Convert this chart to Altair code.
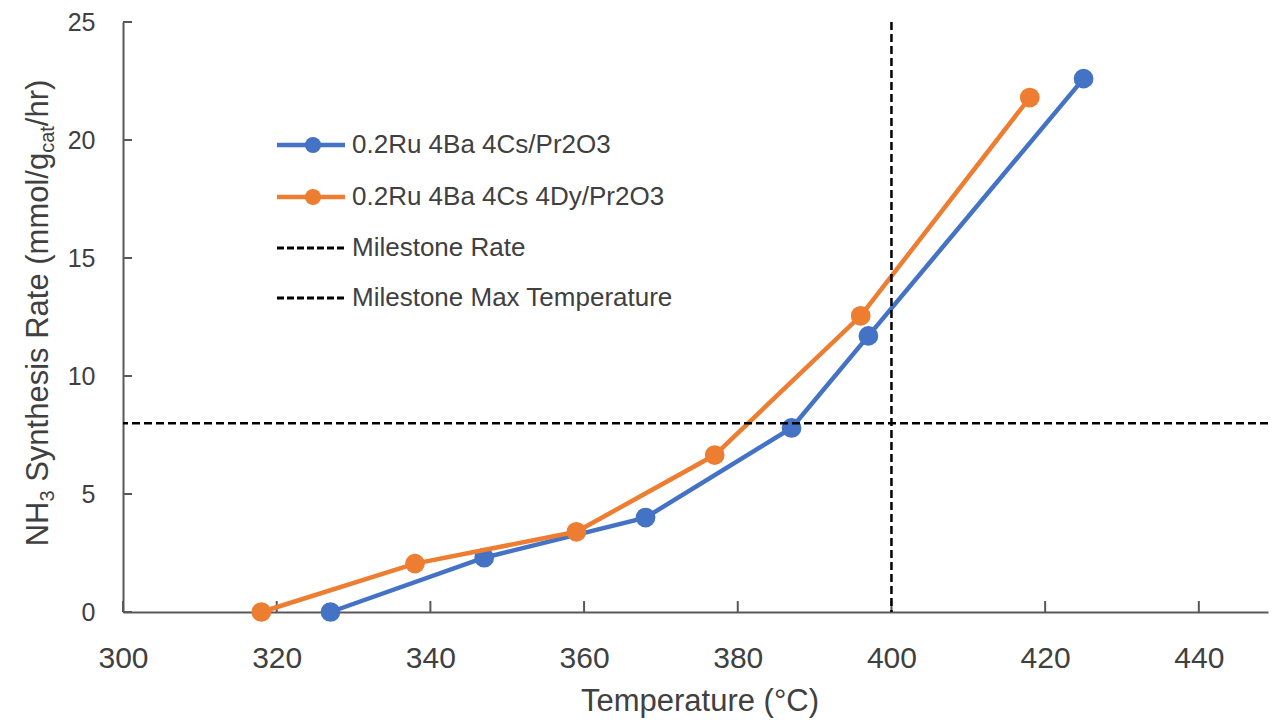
import altair as alt
import pandas as pd

# ---------------- data ----------------
blue_temp = [327, 347, 368, 387, 397, 425]
blue_rate = [0.0, 2.3, 4.0, 7.8, 11.7, 22.6]
orange_temp = [318, 338, 359, 377, 396, 418]
orange_rate = [0.0, 2.05, 3.4, 6.65, 12.55, 21.8]
series_names = ["0.2Ru 4Ba 4Cs/Pr2O3", "0.2Ru 4Ba 4Cs 4Dy/Pr2O3"]
series_colors = ["#4472C4", "#ED7D31"]
milestone_rate = [8]
milestone_temp = [400]
milestone_names = ["Milestone Rate", "Milestone Max Temperature"]
x_ticks = [300, 320, 340, 360, 380, 400, 420, 440]
y_ticks = [0, 5, 10, 15, 20, 25]
x_title = "Temperature (°C)"
y_title_parts = [("NH", False), ("3", True), (" Synthesis Rate (mmol/g", False),
                 ("cat", True), ("/hr)", False)]

# ---------------- layout ----------------
FONT = "Liberation Sans"
TXT = "#404040"
AX = "#595959"
W, H = 1145, 590
xs = alt.Scale(domain=[300, 449], nice=False, zero=False)
ys = alt.Scale(domain=[0, 25], nice=False, zero=True)
x_axis = alt.Axis(values=x_ticks, title=None, grid=False, ticks=False, tickSize=0,
                  labelFontSize=30, labelPadding=31, labelColor=TXT, labelFont=FONT,
                  labelFlush=False, labelOverlap=False, domainColor=AX, domainWidth=2)
y_axis = alt.Axis(values=y_ticks, title=None, grid=False, ticks=False, tickSize=0,
                  labelFontSize=25, labelPadding=28, labelColor=TXT, labelFont=FONT,
                  labelOverlap=False, labelFlush=False, domainColor=AX, domainWidth=2)


def X(f):
    return alt.X(f, scale=xs, axis=x_axis)


def Y(f):
    return alt.Y(f, scale=ys, axis=y_axis)


layers = []

# inside tick marks
layers.append(alt.Chart(pd.DataFrame({"t": x_ticks})).mark_rule(color=AX, strokeWidth=2)
              .encode(x=X("t:Q"), y=alt.value(H - 11), y2=alt.value(H)))
layers.append(alt.Chart(pd.DataFrame({"t": y_ticks})).mark_rule(color=AX, strokeWidth=2)
              .encode(y=Y("t:Q"), x=alt.value(0), x2=alt.value(9)))

# series
for name, color, temps, rates in [(series_names[0], series_colors[0], blue_temp, blue_rate),
                                  (series_names[1], series_colors[1], orange_temp, orange_rate)]:
    df = pd.DataFrame({"temp": temps, "rate": rates, "series": name})
    base = alt.Chart(df).encode(x=X("temp:Q"), y=Y("rate:Q"))
    layers.append(base.mark_line(color=color, strokeWidth=4.5))
    layers.append(base.mark_circle(color=color, size=390, opacity=1))

# milestone lines
layers.append(alt.Chart(pd.DataFrame({"r": milestone_rate}))
              .mark_rule(color="black", strokeWidth=2.5, strokeDash=[8, 4])
              .encode(y=Y("r:Q")))
layers.append(alt.Chart(pd.DataFrame({"t": milestone_temp}))
              .mark_rule(color="black", strokeWidth=2.5, strokeDash=[8, 4])
              .encode(x=X("t:Q")))

# legend (manual)
leg_rows = [123, 175, 226, 276]
leg_x0, leg_x1, leg_xc, leg_tx = 154, 222, 190, 229
one = pd.DataFrame({"a": [0]})
for i, (name, color) in enumerate(zip(series_names, series_colors)):
    yv = leg_rows[i]
    layers.append(alt.Chart(one).mark_rule(color=color, strokeWidth=4.5)
                  .encode(x=alt.value(leg_x0), x2=alt.value(leg_x1), y=alt.value(yv)))
    layers.append(alt.Chart(one).mark_circle(color=color, size=260, opacity=1)
                  .encode(x=alt.value(leg_xc), y=alt.value(yv)))
for j, name in enumerate(milestone_names):
    yv = leg_rows[2 + j]
    layers.append(alt.Chart(one).mark_rule(color="black", strokeWidth=3, strokeDash=[7, 3])
                  .encode(x=alt.value(leg_x0), x2=alt.value(leg_x1), y=alt.value(yv)))
for i, name in enumerate(series_names + milestone_names):
    layers.append(alt.Chart(pd.DataFrame({"label": [name]}))
                  .mark_text(align="left", baseline="middle", fontSize=26, font=FONT, color=TXT)
                  .encode(text="label:N", x=alt.value(leg_tx), y=alt.value(leg_rows[i])))

# x title
layers.append(alt.Chart(pd.DataFrame({"label": [x_title]}))
              .mark_text(align="center", baseline="alphabetic", fontSize=31, font=FONT, color=TXT)
              .encode(text="label:N", x=alt.value(577), y=alt.value(689)))

# y title with subscripts (rotated segments, Arial-compatible advance widths)
ARIAL = {"N": 722, "H": 722, "3": 556, " ": 278, "S": 667, "y": 500, "n": 556, "t": 278,
         "h": 556, "e": 556, "s": 500, "i": 222, "R": 722, "a": 556, "(": 333, "m": 833,
         "o": 556, "l": 222, "/": 278, "g": 556, "c": 500, "r": 333, ")": 333}
F_MAIN, F_SUB = 31, 20
SUB_SHIFT = 6
bx = -75
seg_w = [sum(ARIAL[ch] for ch in s) / 1000 * (F_SUB if sub else F_MAIN) for s, sub in y_title_parts]
total = sum(seg_w)
center_y = 313 - 22
cur = center_y + total / 2
for (s, sub), w in zip(y_title_parts, seg_w):
    fs = F_SUB if sub else F_MAIN
    lead = len(s) - len(s.lstrip(" "))
    start = cur - lead * ARIAL[" "] / 1000 * fs  # leading spaces collapse in SVG
    layers.append(alt.Chart(pd.DataFrame({"label": [s.strip()]}))
                  .mark_text(align="left", baseline="alphabetic", angle=270,
                             fontSize=fs, font=FONT, color=TXT)
                  .encode(text="label:N", x=alt.value(bx + (SUB_SHIFT if sub else 0)),
                          y=alt.value(start)))
    cur -= w

chart = (alt.layer(*layers)
         .properties(width=W, height=H,
                     padding={"left": 115, "top": 14, "right": 2, "bottom": 110},
                     autosize=alt.AutoSizeParams(type="none"))
         .configure_view(stroke=None))

chart.save("out.html", embed_options={"renderer": "svg", "actions": False})
